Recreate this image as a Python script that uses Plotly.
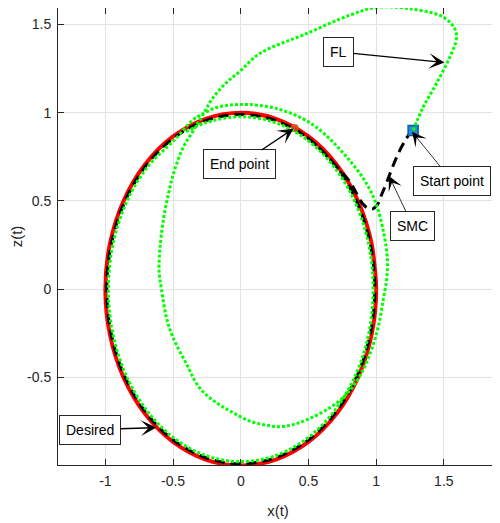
import plotly.graph_objects as go

# ---------------- data ----------------
# Desired trajectory (unit circle)
des_x = [1.0, 0.966, 0.866, 0.707, 0.5, 0.259, 0.0, -0.259, -0.5, -0.707, -0.866, -0.966,
         -1.0, -0.966, -0.866, -0.707, -0.5, -0.259, 0.0, 0.259, 0.5, 0.707, 0.866, 0.966, 1.0, 0.966]
des_z = [0.0, 0.259, 0.5, 0.707, 0.866, 0.966, 1.0, 0.966, 0.866, 0.707, 0.5, 0.259,
         0.0, -0.259, -0.5, -0.707, -0.866, -0.966, -1.0, -0.966, -0.866, -0.707, -0.5, -0.259, 0.0, 0.259]

# SMC trajectory: transient then tracking the circle
smc_x = [1.265, 1.22, 1.17, 1.12, 1.08, 1.04, 1.01, 0.975, 0.94, 0.895, 0.85, 0.805,
         0.70, 0.495, 0.256, 0.0, -0.256, -0.495, -0.70, -0.857, -0.956, -0.99,
         -0.956, -0.857, -0.70, -0.495, -0.256, 0.0, 0.256, 0.495, 0.70, 0.857, 0.956, 0.99,
         0.956, 0.857, 0.70, 0.495, 0.395]
smc_z = [0.905, 0.85, 0.78, 0.69, 0.61, 0.535, 0.48, 0.455, 0.458, 0.49, 0.55, 0.61,
         0.70, 0.857, 0.956, 0.99, 0.956, 0.857, 0.70, 0.495, 0.256, 0.0,
         -0.256, -0.495, -0.70, -0.857, -0.956, -0.99, -0.956, -0.857, -0.70, -0.495, -0.256, 0.0,
         0.256, 0.495, 0.70, 0.857, 0.908]

# FL trajectory: large excursion then tracking the circle
fl_x = [1.273, 1.346, 1.445, 1.544, 1.593, 1.58, 1.494, 1.248, 1.0, 0.805, 0.485, 0.14, 0.0,
        -0.106, -0.205, -0.278, -0.352, -0.426, -0.487, -0.524, -0.573, -0.598, -0.603, -0.586,
        -0.549, -0.5, -0.40, -0.305, -0.18, -0.057, 0.066, 0.18, 0.288, 0.40, 0.51, 0.657, 0.78,
        0.879, 0.953, 1.014, 1.051, 1.078, 1.083, 1.058, 1.0, 0.916, 0.805, 0.682, 0.559, 0.436,
        0.312, 0.19, 0.05, -0.057, -0.18, -0.29, -0.36,
        -0.489, -0.691, -0.847, -0.945, -0.978, -0.945, -0.847, -0.691, -0.489, -0.253, 0.0,
        0.253, 0.489, 0.691, 0.847, 0.945, 0.978, 0.945, 0.847, 0.691, 0.489, 0.253, 0.0,
        -0.253, -0.41]
fl_z = [0.90, 1.03, 1.165, 1.316, 1.42, 1.477, 1.543, 1.59, 1.597, 1.553, 1.449, 1.336, 1.24,
        1.171, 1.086, 0.992, 0.897, 0.803, 0.68, 0.576, 0.387, 0.22, 0.10, 0.0,
        -0.161, -0.275, -0.426, -0.559, -0.644, -0.70, -0.748, -0.77, -0.78, -0.765, -0.733,
        -0.673, -0.597, -0.493, -0.369, -0.218, -0.066, 0.06, 0.17, 0.31, 0.483, 0.615, 0.729,
        0.833, 0.918, 0.975, 1.013, 1.036, 1.047, 1.045, 1.03, 0.99, 0.955,
        0.847, 0.691, 0.489, 0.253, 0.0, -0.253, -0.489, -0.691, -0.847, -0.945, -0.978,
        -0.945, -0.847, -0.691, -0.489, -0.253, 0.0, 0.253, 0.489, 0.691, 0.847, 0.945, 0.978,
        0.945, 0.89]

start_pt = (1.273, 0.90)
end_pt = (0.399, 0.913)

tick_vals_x = [-1, -0.5, 0, 0.5, 1, 1.5]
tick_text_x = ["-1", "-0.5", "0", "0.5", "1", "1.5"]
tick_vals_z = [-0.5, 0, 0.5, 1, 1.5]
tick_text_z = ["-0.5", "0", "0.5", "1", "1.5"]

# annotations: (label, tip_x, tip_z, box_x, box_z, line width, head size)
notes = [
    ("FL", 1.505, 1.285, 0.72, 1.345, 1.3, 2.0),
    ("End point", 0.39, 0.91, -0.007, 0.707, 1.3, 2.0),
    ("Start point", 1.265, 0.892, 1.563, 0.611, 0.8, 3.0),
    ("SMC", 1.095, 0.642, 1.27, 0.359, 0.8, 3.0),
    ("Desired", -0.623, -0.785, -1.111, -0.797, 1.3, 2.0),
]

FONT = "Liberation Sans, Arial, sans-serif"
AX = "#262626"

fig = go.Figure()
fig.add_trace(go.Scatter(x=des_x, y=des_z, mode="lines", line=dict(color="#ff0000", width=4, shape="spline"),
                         name="Desired", hoverinfo="skip"))
fig.add_trace(go.Scatter(x=smc_x, y=smc_z, mode="lines",
                         line=dict(color="black", width=3, dash="10px,6px", shape="spline"),
                         name="SMC", hoverinfo="skip"))
fig.add_trace(go.Scatter(x=[start_pt[0]], y=[start_pt[1]], mode="markers",
                         marker=dict(symbol="square", size=10, color="#2a8ad4", line=dict(color="#0060a8", width=1.5)),
                         name="start", hoverinfo="skip"))
fig.add_trace(go.Scatter(x=[end_pt[0]], y=[end_pt[1]], mode="markers",
                         marker=dict(symbol="circle", size=8, color="#D95319", opacity=0.85),
                         name="end", hoverinfo="skip"))
fig.add_trace(go.Scatter(x=fl_x, y=fl_z, mode="lines",
                         line=dict(color="#00ff00", width=3, dash="3px,2px", shape="spline"),
                         name="FL", hoverinfo="skip"))

for label, tx, tz, bx, bz, lw, hs in notes:
    fig.add_annotation(x=tx, y=tz, ax=bx, ay=bz, xref="x", yref="y", axref="x", ayref="y",
                       text=label, showarrow=True, arrowhead=3, arrowwidth=lw,
                       arrowsize=hs, arrowcolor="black", standoff=0,
                       font=dict(family=FONT, size=14, color="black"),
                       bgcolor="white", bordercolor=AX, borderwidth=1, borderpad=6)

axis_common = dict(showline=True, linecolor=AX, linewidth=1, mirror="ticks", ticks="inside",
                   ticklen=6, tickcolor=AX, showgrid=True, gridcolor="#e3e3e3", gridwidth=1,
                   zeroline=False, automargin=False, tickfont=dict(family=FONT, size=14, color=AX))

fig.update_xaxes(range=[-1.35, 1.9], tickvals=tick_vals_x, ticktext=tick_text_x, ticklabelstandoff=3,
                 title=dict(text="x(t)", font=dict(family=FONT, size=15, color=AX), standoff=17),
                 **axis_common)
fig.update_yaxes(range=[-0.997, 1.594], tickvals=tick_vals_z, ticktext=tick_text_z, ticklabelstandoff=3,
                 title=dict(text="z(t)", font=dict(family=FONT, size=15, color=AX), standoff=8),
                 **axis_common)

# the page body adds an 8px offset, so the figure is 8px smaller than the window
fig.update_layout(width=492, height=515, margin=dict(l=50, r=2, t=0, b=58),
                  plot_bgcolor="white", paper_bgcolor="white", showlegend=False)

fig.write_html("out.html")
